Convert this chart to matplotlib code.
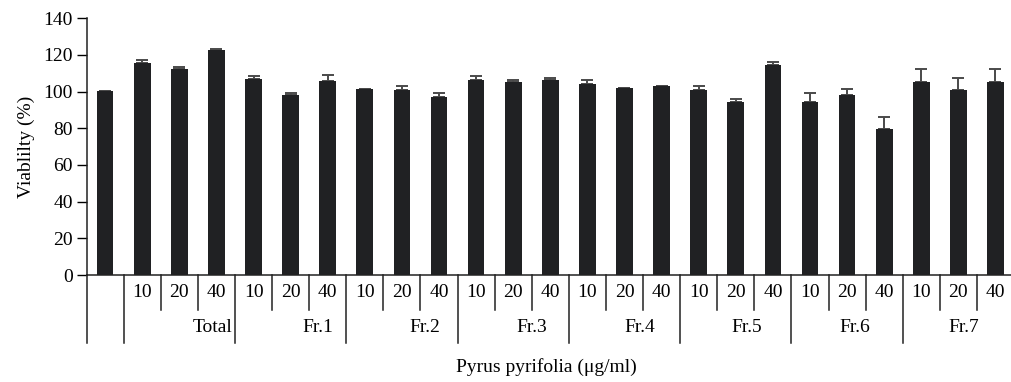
import matplotlib
matplotlib.use("Agg")
import matplotlib.pyplot as plt
import matplotlib.transforms as mtransforms

plt.rcParams['font.family'] = ['Liberation Serif', 'DejaVu Serif']

groups = ["Total", "Fr.1", "Fr.2", "Fr.3", "Fr.4", "Fr.5", "Fr.6", "Fr.7"]
concentrations = ["10", "20", "40"]
control_value = 100.2
control_error = 0.4
values = [
    [115.6, 112.3, 122.7],   # Total
    [106.9, 98.2, 105.8],    # Fr.1
    [101.4, 100.9, 97.1],    # Fr.2
    [106.3, 105.3, 106.3],   # Fr.3
    [104.2, 102.0, 103.1],   # Fr.4
    [100.9, 94.3, 114.5],    # Fr.5
    [94.3, 98.2, 79.6],      # Fr.6
    [105.3, 100.9, 105.3],   # Fr.7
]
errors = [
    [1.5, 1.3, 0.7],
    [1.8, 0.9, 3.3],
    [0.0, 2.3, 2.2],
    [2.1, 1.0, 1.3],
    [2.0, 0.0, 0.0],
    [2.3, 1.6, 1.5],
    [4.9, 3.4, 6.5],
    [7.1, 6.4, 7.2],
]
y_ticks = [0, 20, 40, 60, 80, 100, 120, 140]
y_label = "Viablilty (%)"
x_label = "Pyrus pyrifolia (\u03bcg/ml)"

W, H = 1011, 382
fig = plt.figure(figsize=(W / 100, H / 100), dpi=100)
left, right = 86.6, 1014
bottom, top = 275, 18.3
ax = fig.add_axes([left / W, 1 - bottom / H, (right - left) / W, (bottom - top) / H])

heights = [control_value]
errs = [control_error]
for v, e in zip(values, errors):
    heights.extend(v)
    errs.extend(e)
xs = list(range(len(heights)))

bar_color = "#202123"
ax.bar(xs, heights, width=0.45, color=bar_color, zorder=2)
ax.errorbar(xs, heights, yerr=[[0] * len(errs), errs], fmt="none",
            ecolor="#4a4a4a", elinewidth=1.4, capsize=4.5, capthick=1.4, zorder=1)

ax.set_xlim(-0.5, len(heights) - 0.5)
ax.set_ylim(0, 140)
ax.set_yticks(y_ticks)
ax.set_yticklabels([str(t) for t in y_ticks])
ax.tick_params(axis="y", direction="out", length=7, width=1, labelsize=14, pad=3)
ax.set_xticks([])
for s in ["top", "right"]:
    ax.spines[s].set_visible(False)
for s in ["left", "bottom"]:
    ax.spines[s].set_linewidth(1.1)
    ax.spines[s].set_color("#222222")

ax.set_ylabel(y_label, fontsize=14, labelpad=6)

trans = mtransforms.blended_transform_factory(ax.transData, ax.transAxes)
short_y = -0.136
long_y = -0.265
line_kw = dict(color="#222222", lw=1.1, transform=trans, clip_on=False)

# long separators: left edge, after control, and between groups
long_bounds = [-0.5, 0.5] + [0.5 + 3 * (g + 1) for g in range(len(groups) - 1)]
for b in long_bounds:
    ax.plot([b, b], [0, long_y], **line_kw)
for g in range(len(groups)):
    start = 1 + 3 * g
    for k in (1, 2):
        b = start + k - 0.5
        ax.plot([b, b], [0, short_y], **line_kw)

# concentration labels
for g in range(len(groups)):
    for k, c in enumerate(concentrations):
        ax.text(1 + 3 * g + k, -0.07, c, transform=trans, ha="center",
                va="center", fontsize=14)

# group labels
label_offsets = [None, 0.74, 0.62, 0.51, 0.42, 0.30, 0.21, 0.15]
for g, name in enumerate(groups):
    center = 1 + 3 * g + 1
    if label_offsets[g] is None:
        ax.text(3.42, -0.205, name, transform=trans, ha="right", va="center", fontsize=14)
    else:
        ax.text(center + label_offsets[g], -0.205, name, transform=trans,
                ha="center", va="center", fontsize=14)

fig.text(546 / W, 1 - 367 / H, x_label, ha="center", va="center", fontsize=14)

fig.savefig("out.png", dpi=100)
